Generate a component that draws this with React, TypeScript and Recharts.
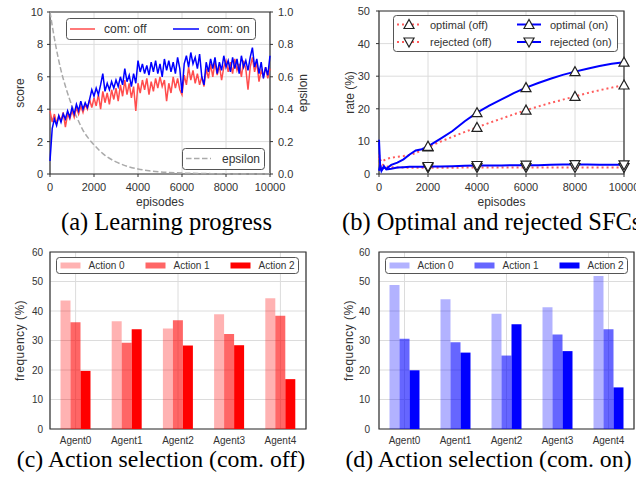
import React from 'react';
import { LineChart, Line, BarChart, Bar, XAxis, YAxis, CartesianGrid, ReferenceArea } from 'recharts';

const SANS = '"Liberation Sans", Arial, sans-serif';
const SERIF = '"Liberation Serif", "Times New Roman", serif';
const TEXT = '#333';
const GRID = '#dcdcdc';
const FRAME = '#333';

// (a) learning progress, one value every SCORE_STEP episodes
const SCORE_STEP = 100;
const SCORE_ON = [
  0.8, 2.8, 3.4, 3.0, 3.6, 3.2, 3.7, 3.4, 3.9, 3.5,
  4.1, 3.7, 4.3, 3.9, 4.5, 4.0, 4.4, 4.1, 4.6, 5.2,
  4.8, 5.3, 4.9, 5.5, 6.2, 5.1, 5.6, 5.2, 5.7, 5.3,
  5.8, 5.4, 6.0, 5.5, 6.5, 5.7, 6.1, 5.4, 6.2, 5.6,
  7.0, 6.3, 6.8, 6.2, 6.7, 6.1, 6.9, 6.3, 7.0, 6.2,
  6.8, 6.0, 7.1, 6.4, 7.0, 6.3, 6.9, 6.2, 7.2, 6.5,
  5.0, 6.8, 7.3, 6.6, 7.5, 6.8, 7.2, 6.5, 7.4, 6.0,
  5.5, 6.9, 6.3, 7.1, 6.5, 7.2, 6.2, 6.9, 6.4, 7.3,
  6.6, 7.0, 6.3, 7.2, 6.5, 7.1, 6.2, 7.3, 6.6, 7.0,
  6.4, 7.2, 7.8, 6.6, 7.1, 6.2, 6.9, 5.9, 6.6, 6.1,
  7.3,
];
const SCORE_OFF = [
  3.9, 3.2, 3.7, 3.1, 3.6, 3.3, 3.8, 2.9, 3.7, 3.4,
  3.9, 3.5, 4.1, 3.7, 4.2, 3.8, 4.3, 4.0, 4.6, 4.1,
  4.7, 4.2, 4.9, 4.0, 5.1, 4.4, 5.0, 4.3, 5.2, 4.6,
  5.3, 4.5, 5.5, 4.8, 5.8, 4.9, 5.6, 4.7, 5.4, 3.9,
  5.6, 5.0, 5.8, 5.2, 5.9, 4.9, 5.7, 5.1, 5.9, 5.3,
  6.0, 5.4, 5.8, 4.5, 5.6, 5.0, 6.0, 5.3, 5.9, 5.2,
  4.9, 6.1, 5.5, 6.6, 5.8, 6.4, 5.6, 6.2, 5.5, 6.0,
  5.4, 6.5, 5.9, 6.8, 6.0, 6.9, 6.1, 6.7, 5.8, 6.6,
  7.0, 6.3, 6.9, 6.2, 7.1, 6.4, 6.8, 6.0, 7.0, 6.5,
  5.2, 6.6, 7.2, 6.3, 6.9, 5.7, 6.4, 6.0, 6.6, 5.9,
  6.5,
];
const EPS_EPISODES = [0, 250, 500, 750, 1000, 1250, 1500, 1750, 2000, 2500, 3000, 3500, 4000, 4500, 5000, 6000, 7000, 8000, 9000, 10000];
const EPS_VALUES = [1.0, 0.8, 0.64, 0.52, 0.42, 0.34, 0.27, 0.22, 0.18, 0.115, 0.075, 0.048, 0.031, 0.02, 0.013, 0.006, 0.003, 0.001, 0, 0];

// (b) optimal / rejected SFC rate
const RATE_EPISODES = [0, 50, 100, 200, 300, 500, 750, 1000, 1250, 1500, 1750, 2000, 2500, 3000, 3500, 4000, 4500, 5000, 5500, 6000, 6500, 7000, 7500, 8000, 8500, 9000, 9500, 10000];
const OPT_OFF = [6.0, 4.4, 3.8, 4.2, 4.6, 5.0, 5.3, 5.5, 5.8, 6.4, 7.4, 8.3, 9.9, 11.4, 12.9, 14.3, 15.7, 17.0, 18.3, 19.6, 20.7, 21.8, 22.8, 23.8, 24.8, 25.7, 26.5, 27.3];
const REJ_OFF = [5.0, 2.0, 3.2, 2.6, 2.3, 2.1, 2.0, 2.0, 1.9, 1.9, 1.9, 1.9, 1.9, 1.9, 2.0, 2.0, 2.0, 2.0, 2.0, 2.0, 2.0, 2.0, 2.0, 2.0, 2.0, 2.0, 2.0, 2.0];
const OPT_ON = [10.5, 2.0, 1.2, 2.0, 1.6, 2.8, 3.5, 4.5, 6.0, 7.2, 7.6, 8.5, 10.8, 13.2, 16.2, 18.8, 21.0, 22.9, 24.8, 26.5, 27.9, 29.2, 30.4, 31.4, 32.3, 33.1, 33.8, 34.3];
const REJ_ON = [1.0, 2.8, 1.0, 2.4, 1.4, 1.6, 2.0, 2.1, 2.2, 2.2, 2.2, 2.3, 2.3, 2.4, 2.5, 2.6, 2.6, 2.6, 2.7, 2.7, 2.7, 2.8, 2.9, 2.9, 2.9, 2.8, 2.8, 2.8];
const MARKER_EPISODES = [2000, 4000, 6000, 8000, 10000];

// (c)/(d) action selection frequency (%)
const AGENTS = ['Agent0', 'Agent1', 'Agent2', 'Agent3', 'Agent4'];
const OFF_ACTION0 = [43.6, 36.5, 34.1, 38.9, 44.3];
const OFF_ACTION1 = [36.2, 29.2, 36.9, 32.2, 38.4];
const OFF_ACTION2 = [19.7, 33.8, 28.3, 28.4, 16.9];
const ON_ACTION0 = [48.8, 44.0, 39.1, 41.3, 51.9];
const ON_ACTION1 = [30.6, 29.4, 24.9, 32.0, 33.8];
const ON_ACTION2 = [19.9, 25.9, 35.5, 26.4, 14.1];

const EP_TICKS = [0, 2000, 4000, 6000, 8000, 10000];
const ACTION_NAMES = ['Action 0', 'Action 1', 'Action 2'];
const ACTION_ALPHA = [0.3, 0.6, 1];

const scoreRows = SCORE_ON.map((on, i) => ({ ep: i * SCORE_STEP, on, off: SCORE_OFF[i] }));
const epsRows = EPS_EPISODES.map((ep, i) => ({ ep, eps: EPS_VALUES[i] }));
const rateRows = (vals: number[]) => RATE_EPISODES.map((ep, i) => ({ ep, v: vals[i] }));
const freqRows = (a0: number[], a1: number[], a2: number[]) =>
  AGENTS.map((agent, i) => ({ agent, a0: a0[i], a1: a1[i], a2: a2[i] }));

const tick = (size: number) => ({ fontSize: size, fill: TEXT, fontFamily: SANS });

function vLabel(text: string, x: number, size = 12, spacing = 0) {
  return {
    content: (props: any) => {
      const vb = props.viewBox || {};
      const y = vb.y + vb.height / 2;
      return (
        <text x={x} y={y} transform={`rotate(-90 ${x} ${y})`} textAnchor='middle' dominantBaseline='central'
          fontSize={size} fontFamily={SANS} fill={TEXT} letterSpacing={spacing}>
          {text}
        </text>
      );
    },
  };
}

function hLabel(text: string, baseline: number) {
  return {
    content: (props: any) => {
      const vb = props.viewBox || {};
      return (
        <text x={vb.x + vb.width / 2} y={baseline} textAnchor='middle' fontSize={12} fontFamily={SANS} fill={TEXT}>
          {text}
        </text>
      );
    },
  };
}

function triangle(cx: number, cy: number, up: boolean) {
  const s = up ? 1 : -1;
  return `${cx},${cy - 5 * s} ${cx - 5},${cy + 4 * s} ${cx + 5},${cy + 4 * s}`;
}

function triDot(up: boolean) {
  return (props: any) => {
    const { cx, cy, payload, index } = props;
    if (cx == null || !MARKER_EPISODES.includes(payload?.ep)) return <g key={`n-${index}`} />;
    return <polygon key={`t-${index}`} points={triangle(cx, cy, up)} fill='#fff' stroke='#222' strokeWidth={1.2} />;
  };
}

function Box({ left, top, width, height, children }: any) {
  return (
    <svg width={width} height={height} style={{ position: 'absolute', left, top }}>
      <rect x={0.5} y={0.5} width={width - 1} height={height - 1} rx={3} fill='#fff' stroke='#555' />
      {children}
    </svg>
  );
}

function LearningChart() {
  return (
    <div style={{ position: 'absolute', left: 0, top: 0 }}>
      <LineChart width={320} height={210} data={scoreRows} margin={{ top: 12, right: 10, bottom: 0, left: 0 }}>
        <CartesianGrid yAxisId='score' stroke={GRID} />
        <XAxis dataKey='ep' type='number' domain={[0, 10000]} ticks={EP_TICKS} interval={0} height={36}
          axisLine={false} tickLine={{ stroke: FRAME }} tickSize={3} tickMargin={6} tick={tick(11)}
          label={hLabel('episodes', 205.5)} />
        <YAxis yAxisId='score' domain={[0, 10]} ticks={[0, 2, 4, 6, 8, 10]} interval={0} width={50}
          axisLine={false} tickLine={{ stroke: FRAME }} tickSize={3} tickMargin={4} tick={tick(11)}
          label={vLabel('score', 20)} />
        <YAxis yAxisId='eps' orientation='right' domain={[0, 1]} ticks={[0, 0.2, 0.4, 0.6, 0.8, 1]} interval={0}
          tickFormatter={(v: number) => v.toFixed(1)} width={40}
          axisLine={false} tickLine={{ stroke: FRAME }} tickSize={3} tickMargin={5} tick={tick(11)}
          label={vLabel('epsilon', 303)} />
        <Line yAxisId='eps' data={epsRows} dataKey='eps' type='monotone' stroke='#aaaaaa' strokeWidth={1.5}
          strokeDasharray='5.5 2.5' dot={false} activeDot={false} isAnimationActive={false} />
        <Line yAxisId='score' dataKey='off' type='linear' stroke='#ff4d4d' strokeWidth={1.5}
          dot={false} activeDot={false} isAnimationActive={false} />
        <Line yAxisId='score' dataKey='on' type='linear' stroke='#0000ff' strokeWidth={1.5}
          dot={false} activeDot={false} isAnimationActive={false} />
        <ReferenceArea yAxisId='score' x1={0} x2={10000} y1={0} y2={10} fill='none' stroke={FRAME} strokeWidth={1.2} />
      </LineChart>
      <Box left={66} top={18} width={190} height={22}>
        <line x1={4} x2={29} y1={11} y2={11} stroke='#ff4d4d' strokeWidth={1.5} />
        <text x={38} y={15.3} fontSize={12} fontFamily={SANS} fill={TEXT}>com: off</text>
        <line x1={107} x2={133} y1={11} y2={11} stroke='#0000ff' strokeWidth={1.5} />
        <text x={141} y={15.3} fontSize={12} fontFamily={SANS} fill={TEXT}>com: on</text>
      </Box>
      <Box left={182} top={148} width={83} height={22}>
        <line x1={4} x2={29} y1={10.5} y2={10.5} stroke='#aaaaaa' strokeWidth={1.5} strokeDasharray='5.5 2.5' />
        <text x={40} y={14.8} fontSize={12} fontFamily={SANS} fill={TEXT}>epsilon</text>
      </Box>
    </div>
  );
}

const RATE_SERIES = [
  { name: 'optimal (off)', vals: OPT_OFF, color: '#ff5c5c', dash: '2 3', up: true },
  { name: 'rejected (off)', vals: REJ_OFF, color: '#ff5c5c', dash: '2 3', up: false },
  { name: 'optimal (on)', vals: OPT_ON, color: '#0000ff', dash: undefined, up: true },
  { name: 'rejected (on)', vals: REJ_ON, color: '#0000ff', dash: undefined, up: false },
];

function RateChart() {
  return (
    <div style={{ position: 'absolute', left: 318, top: 0 }}>
      <LineChart width={318} height={210} margin={{ top: 11, right: 12, bottom: 0, left: 0 }}>
        <CartesianGrid stroke={GRID} />
        <XAxis dataKey='ep' type='number' domain={[0, 10000]} ticks={EP_TICKS} interval={0} height={36}
          axisLine={false} tickLine={{ stroke: FRAME }} tickSize={3} tickMargin={6} tick={tick(11)}
          label={hLabel('episodes', 205.5)} allowDuplicatedCategory={false} />
        <YAxis domain={[0, 50]} ticks={[0, 10, 20, 30, 40, 50]} interval={0} width={61}
          axisLine={false} tickLine={{ stroke: FRAME }} tickSize={3} tickMargin={6} tick={tick(11)}
          label={vLabel('rate (%)', 31.5)} />
        <ReferenceArea x1={0} x2={10000} y1={0} y2={50} fill='none' stroke={FRAME} strokeWidth={1.2} />
        {RATE_SERIES.map((s) => (
          <Line key={s.name} name={s.name} data={rateRows(s.vals)} dataKey='v' type='linear' stroke={s.color}
            strokeWidth={2} strokeDasharray={s.dash} dot={triDot(s.up)} activeDot={false} isAnimationActive={false} />
        ))}
      </LineChart>
      <Box left={75} top={15} width={225} height={37}>
        {RATE_SERIES.map((s, i) => {
          const col = i < 2 ? 0 : 1;
          const row = i % 2;
          const x0 = col === 0 ? 4 : 124;
          const y = row === 0 ? 9.5 : 27;
          return (
            <g key={s.name}>
              <line x1={x0} x2={x0 + 24} y1={y} y2={y} stroke={s.color} strokeWidth={2} strokeDasharray={s.dash} />
              <polygon points={triangle(x0 + 12, y, s.up)} fill='#fff' stroke='#222' strokeWidth={1.2} />
              <text x={x0 + 33} y={y + 4} fontSize={11} fontFamily={SANS} fill={TEXT}>{s.name}</text>
            </g>
          );
        })}
      </Box>
    </div>
  );
}

function FreqChart({ left, rows, color, axisWidth, rightMargin, labelX, tickMargin }: any) {
  return (
    <div style={{ position: 'absolute', left, top: 235 }}>
      <BarChart width={318} height={220} data={rows} margin={{ top: 17, right: rightMargin, bottom: 0, left: 0 }}
        barCategoryGap={10.5} barGap={0}>
        <CartesianGrid stroke={GRID} />
        <XAxis dataKey='agent' height={26} axisLine={false} tickLine={false} tickSize={0} tickMargin={8} tick={tick(10)} />
        <YAxis domain={[0, 60]} ticks={[0, 10, 20, 30, 40, 50, 60]} interval={0} width={axisWidth}
          axisLine={false} tickLine={false} tickSize={0} tickMargin={tickMargin} tick={tick(10)}
          label={vLabel('frequency (%)', labelX, 12, 0.5)} />
        {['a0', 'a1', 'a2'].map((k, i) => (
          <Bar key={k} dataKey={k} name={ACTION_NAMES[i]} fill={color} fillOpacity={ACTION_ALPHA[i]} isAnimationActive={false} />
        ))}
        <ReferenceArea y1={0} y2={60} fill='none' stroke={FRAME} strokeWidth={1.2} />
      </BarChart>
      <Box left={axisWidth + 5.5} top={21.5} width={243} height={17}>
        {ACTION_NAMES.map((name, i) => (
          <g key={name}>
            <rect x={4.5 + i * 85} y={5.5} width={20} height={6} fill={color} fillOpacity={ACTION_ALPHA[i]} />
            <text x={32.5 + i * 85} y={12.2} fontSize={10} fontFamily={SANS} fill={TEXT}>{name}</text>
          </g>
        ))}
      </Box>
    </div>
  );
}

export default function App() {
  return (
    <div style={{ position: 'fixed', left: 0, top: 0, width: 636, height: 477, overflow: 'hidden', background: '#fff' }}>
      <svg width={636} height={477} style={{ position: 'absolute', left: 0, top: 0 }}>
        <g fontFamily={SERIF} fill='#000'>
          <text x={166.5} y={229.5} fontSize={24.5} textAnchor='middle'>(a) Learning progress</text>
          <text x={342} y={229.5} fontSize={24.5}>(b) Optimal and rejected SFCs</text>
          <text x={161} y={467} fontSize={23.8} textAnchor='middle'>(c) Action selection (com. off)</text>
          <text x={488.5} y={467} fontSize={23.8} textAnchor='middle'>(d) Action selection (com. on)</text>
        </g>
      </svg>
      <LearningChart />
      <RateChart />
      <FreqChart left={0} rows={freqRows(OFF_ACTION0, OFF_ACTION1, OFF_ACTION2)} color='#ff0000'
        axisWidth={50} rightMargin={12} labelX={20} tickMargin={7} />
      <FreqChart left={318} rows={freqRows(ON_ACTION0, ON_ACTION1, ON_ACTION2)} color='#0000ff'
        axisWidth={61} rightMargin={2} labelX={31} tickMargin={9} />
    </div>
  );
}
